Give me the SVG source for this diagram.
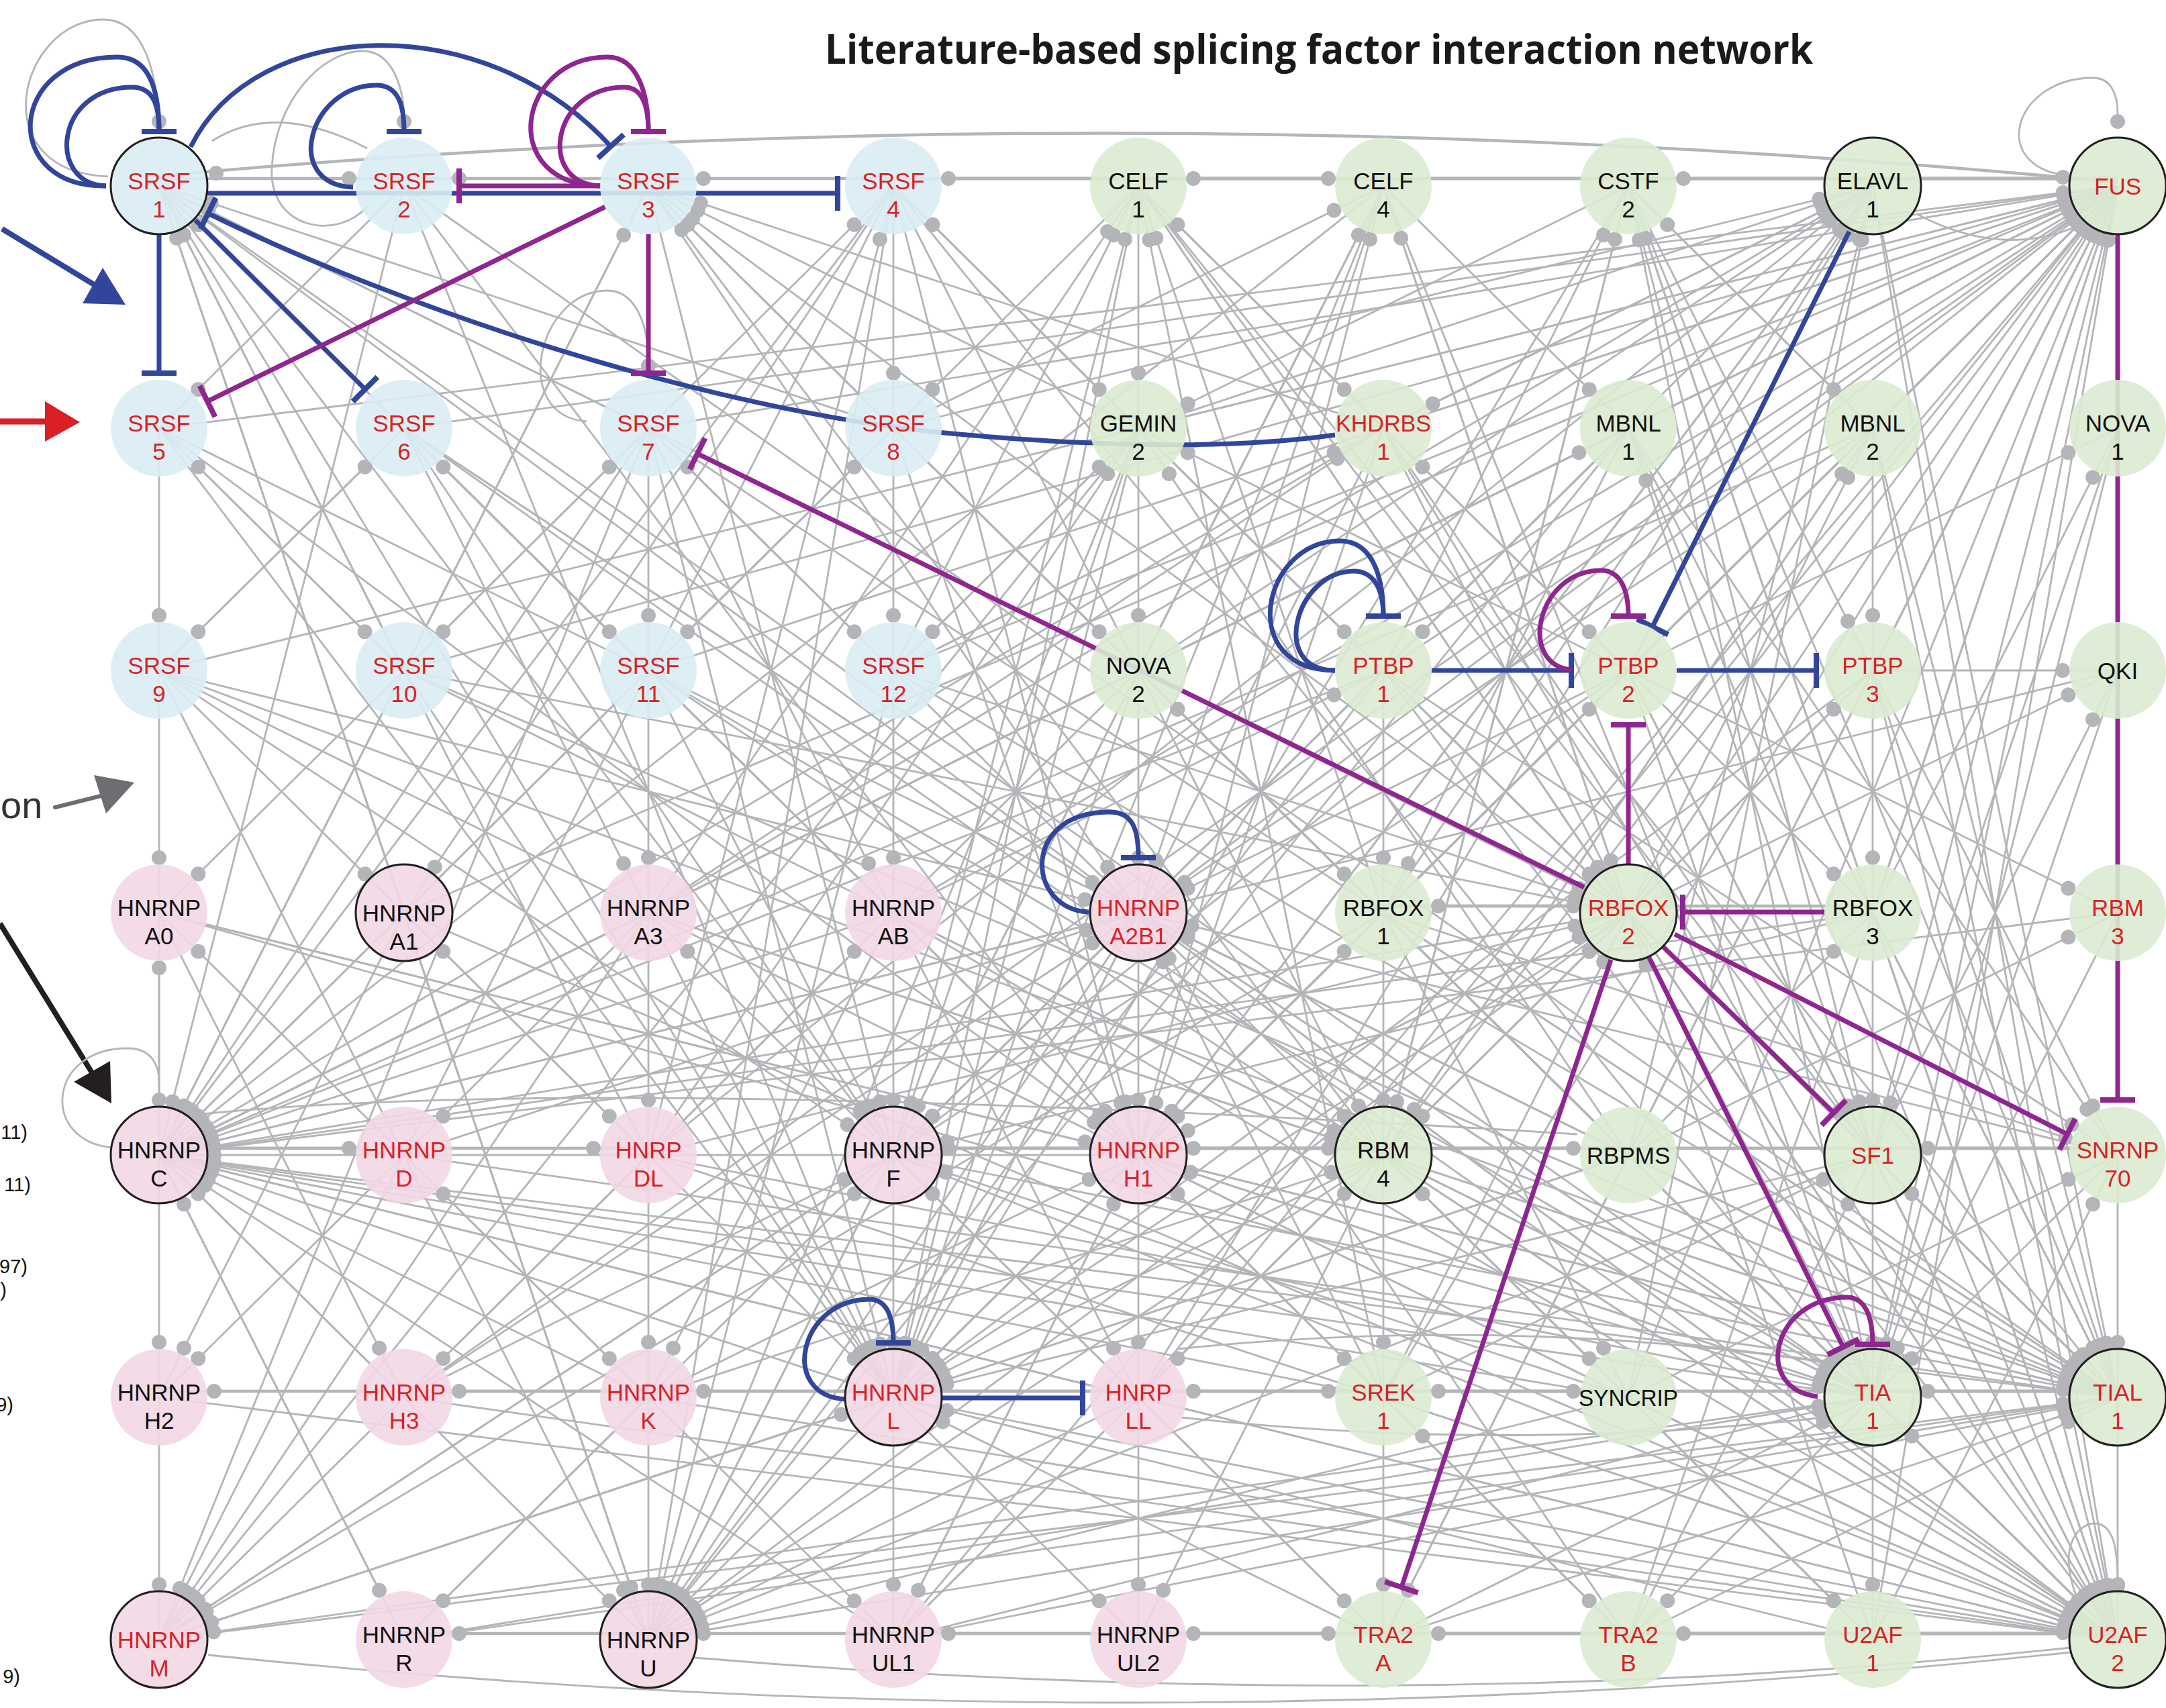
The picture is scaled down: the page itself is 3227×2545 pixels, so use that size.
<svg xmlns="http://www.w3.org/2000/svg" width="3227" height="2545" viewBox="0 0 3227 2545">
<style>
.g path{stroke:#b4b5b8;stroke-width:2.8;fill:none;marker-end:url(#d)}
.ch path{stroke:#b4b5b8;stroke-width:4.5;fill:none;marker-end:url(#d)}
.cv path{stroke:#b4b5b8;stroke-width:2.8;fill:none}
.gd{fill:#b4b5b8}
.cb{stroke:#31469b;stroke-width:7;fill:none;marker-end:url(#tB)}
.cp{stroke:#8f2690;stroke-width:7;fill:none;marker-end:url(#tP)}
.nb{fill:#d9edf4;fill-opacity:0.9}
.ng{fill:#dcebd2;fill-opacity:0.9}
.np{fill:#f2d8e6;fill-opacity:0.9}
.ol{stroke:#231f20;stroke-width:3}
.node text{font-family:"Liberation Sans",Arial,Helvetica,sans-serif;font-size:35px;text-anchor:middle}
.r{fill:#da1f26}
.k{fill:#111111}
.lab{font-family:"Liberation Sans",Arial,Helvetica,sans-serif;font-size:29px;fill:#111111}
</style>
<defs>
<marker id="d" markerUnits="userSpaceOnUse" markerWidth="1" markerHeight="1" refX="0" refY="0" orient="auto" overflow="visible"><circle cx="-82" cy="0" r="11" fill="#b4b5b8"/></marker>
<marker id="tB" markerUnits="userSpaceOnUse" markerWidth="1" markerHeight="1" refX="0" refY="0" orient="auto" overflow="visible"><path d="M0,-26V26" stroke="#31469b" stroke-width="8"/></marker>
<marker id="tP" markerUnits="userSpaceOnUse" markerWidth="1" markerHeight="1" refX="0" refY="0" orient="auto" overflow="visible"><path d="M0,-26V26" stroke="#8f2690" stroke-width="8"/></marker>
</defs>
<rect width="3227" height="2545" fill="#ffffff"/>
<text x="1229" y="95" font-family="'Open Sans','Liberation Sans',sans-serif" font-weight="700" font-size="60" fill="#1a1a1a" textLength="1472" lengthAdjust="spacingAndGlyphs">Literature-based splicing factor interaction network</text>
<g id="legend-fragments">
<path d="M3,341 L140,424" stroke="#31469b" stroke-width="8"/>
<polygon points="153,399 123,452 187,454" fill="#31469b"/>
<path d="M0,628 L72,628" stroke="#da1f26" stroke-width="9"/>
<polygon points="67,598 119,629 67,658" fill="#da1f26"/>
<text x="1" y="1219" font-family="'Liberation Sans',Arial,sans-serif" font-size="56" fill="#333333">on</text>
<path d="M82,1203 L150,1186" stroke="#6d6e71" stroke-width="6" stroke-linecap="round"/>
<polygon points="140,1155 200,1166 158,1212" fill="#6d6e71"/>
<path d="M0,1376 L138,1600" stroke="#231f20" stroke-width="8"/>
<polygon points="110,1612 164,1581 166,1644" fill="#231f20"/>
<text class="lab" x="41" y="1697" text-anchor="end">11)</text>
<text class="lab" x="46" y="1775" text-anchor="end">11)</text>
<text class="lab" x="41" y="1897" text-anchor="end">97)</text>
<text class="lab" x="10" y="1932" text-anchor="end">)</text>
<text class="lab" x="20" y="2103" text-anchor="end">9)</text>
<text class="lab" x="30" y="2508" text-anchor="end">9)</text>
</g>
<g id="connectors">
<g class="cv">
<path d="M161,263 C-30,255 30,29 154,29 C215,29 232,110 236,170"/>
<path d="M3083,262 C2960,250 3000,116 3118,116 C3145,116 3155,140 3155,170"/>
<path d="M167,1710 C60,1700 70,1562 190,1562 C228,1562 237,1590 237,1612"/>
<path d="M316,210 Q410,150 547,221"/>
<path d="M547,308 C500,360 400,340 405,250 C410,150 480,76 540,76 C585,76 600,130 602,170"/>
<path d="M874,628 C760,620 800,433 905,433 C945,433 966,480 966,540"/>
<path d="M3098,2390 C3060,2300 3100,2270 3120,2270 C3150,2270 3155,2310 3155,2361"/>
<path d="M2856,319 Q2990,390 3110,330"/>
<path d="M1760,2112 Q2240,2165 2720,2112"/>
<path d="M1755,2010 Q2240,1960 2720,2030"/>
<path d="M300,1660 Q900,1600 2350,1690"/>
<path d="M3085,2455 Q2100,2560 1035,2470"/>
<path d="M3085,2462 Q1700,2610 310,2466"/>
</g>
<circle class="gd" cx="237" cy="181" r="11"/>
<circle class="gd" cx="3155" cy="181" r="11"/>
<circle class="gd" cx="322" cy="258" r="11"/>
<circle class="gd" cx="602" cy="181" r="11"/>
<circle class="gd" cx="966" cy="545" r="11"/>
<circle class="gd" cx="3155" cy="2363" r="11"/>
<g class="ch">
<path d="M237,262 Q1700,130 3155,272"/>
<path d="M3155 266L966 266"/><path d="M3155 266L1331 266"/><path d="M3155 266L1696 266"/><path d="M1331 266L2061 266"/><path d="M3155 266L2426 266"/><path d="M237 266L602 266"/><path d="M966 266L602 266"/>
<path d="M237 1711L602 1711"/><path d="M237 1711L966 1711"/><path d="M3155 1711L1331 1711"/><path d="M3155 1711L1696 1711"/><path d="M1331 1711L2426 1711"/><path d="M3155 1711L2790 1711"/><path d="M1331 1711L2061 1711"/>
<path d="M966 2073L237 2073"/><path d="M1331 2073L602 2073"/><path d="M1331 2073L966 2073"/><path d="M3155 2073L1696 2073"/><path d="M1331 2073L2061 2073"/><path d="M3155 2073L2061 2073"/><path d="M1331 2073L2426 2073"/><path d="M3155 2073L2790 2073"/>
<path d="M966 2434L602 2434"/><path d="M1331 2434L966 2434"/><path d="M3155 2434L1331 2434"/><path d="M3155 2434L1696 2434"/><path d="M1331 2434L2061 2434"/><path d="M3155 2434L2061 2434"/><path d="M3155 2434L2426 2434"/>
<path d="M2061 1350L2426 1350"/><path d="M2790 1350L2061 1350"/>
</g>
<g class="g">
<path d="M237 638L237 999"/><path d="M237 999L237 1360"/><path d="M237 1721L237 1360"/><path d="M237 1360L237 1721"/><path d="M237 1721L237 2082"/><path d="M237 2082L237 2443"/>
<path d="M966 999L966 1360"/><path d="M966 1360L966 1721"/><path d="M966 1721L966 2082"/><path d="M966 2082L966 2443"/><path d="M966 638L966 999"/>
<path d="M1331 277L1331 638"/><path d="M1331 638L1331 999"/><path d="M1331 999L1331 1360"/><path d="M1331 1360L1331 1721"/><path d="M1331 1721L1331 2082"/><path d="M1331 2082L1331 2443"/>
<path d="M1696 277L1696 638"/><path d="M1696 638L1696 999"/><path d="M1696 999L1696 1360"/><path d="M1696 1360L1696 1721"/><path d="M1696 1721L1696 2082"/><path d="M1696 2082L1696 2443"/>
<path d="M2061 999L2061 1360"/><path d="M2061 1360L2061 1721"/><path d="M2061 1721L2061 2082"/><path d="M2061 2082L2061 2443"/>
<path d="M2790 638L2790 999"/><path d="M2790 999L2790 1360"/><path d="M2790 1360L2790 1721"/><path d="M2790 1721L2790 2082"/><path d="M2790 2082L2790 2443"/>
<path d="M3155 1721L3155 2082"/><path d="M3155 2082L3155 2443"/>
<path d="M237 638L3155 277"/><path d="M602 638L3155 277"/><path d="M966 638L3155 277"/><path d="M1696 638L3155 277"/><path d="M2061 638L3155 277"/><path d="M2426 638L3155 277"/><path d="M2790 638L3155 277"/>
<path d="M237 999L3155 277"/><path d="M602 999L3155 277"/><path d="M966 999L3155 277"/><path d="M1331 999L3155 277"/><path d="M1696 999L3155 277"/><path d="M2061 999L3155 277"/><path d="M2426 999L3155 277"/><path d="M2790 999L3155 277"/>
<path d="M602 1360L3155 277"/><path d="M966 1360L3155 277"/><path d="M1331 1360L3155 277"/><path d="M1696 1360L3155 277"/><path d="M2061 1360L3155 277"/><path d="M2426 1360L3155 277"/><path d="M2790 1360L3155 277"/>
<path d="M237 1721L3155 277"/><path d="M1331 1721L3155 277"/><path d="M1696 1721L3155 277"/><path d="M2061 1721L3155 277"/><path d="M2426 1721L3155 277"/><path d="M2790 1721L3155 277"/>
<path d="M602 2082L3155 277"/><path d="M1331 2082L3155 277"/><path d="M1696 2082L3155 277"/><path d="M2061 2082L3155 277"/><path d="M2426 2082L3155 277"/><path d="M2790 2082L3155 277"/>
<path d="M966 2443L3155 277"/><path d="M1331 2443L3155 277"/><path d="M2061 2443L3155 277"/><path d="M2426 2443L3155 277"/><path d="M2790 2443L3155 277"/>
<path d="M602 277L237 1721"/><path d="M966 277L237 1721"/><path d="M1331 277L237 1721"/><path d="M2061 277L237 1721"/>
<path d="M966 638L237 1721"/><path d="M1331 638L237 1721"/><path d="M2061 638L237 1721"/><path d="M2426 638L237 1721"/><path d="M2790 638L237 1721"/>
<path d="M602 999L237 1721"/><path d="M966 999L237 1721"/><path d="M1696 999L237 1721"/><path d="M2061 999L237 1721"/><path d="M3155 999L237 1721"/>
<path d="M966 1360L237 1721"/><path d="M1331 1360L237 1721"/><path d="M1696 1360L237 1721"/><path d="M2426 1360L237 1721"/><path d="M2790 1360L237 1721"/><path d="M3155 1360L237 1721"/>
<path d="M1696 1721L237 1721"/>
<path d="M602 2082L237 1721"/><path d="M966 2082L237 1721"/><path d="M1331 2082L237 1721"/><path d="M1696 2082L237 1721"/><path d="M2061 2082L237 1721"/><path d="M2426 2082L237 1721"/><path d="M2790 2082L237 1721"/><path d="M3155 2082L237 1721"/>
<path d="M602 2443L237 1721"/><path d="M1331 2443L237 1721"/><path d="M3155 2443L237 1721"/>
<path d="M237 277L3155 2443"/><path d="M1696 277L3155 2443"/><path d="M2426 277L3155 2443"/><path d="M2790 277L3155 2443"/>
<path d="M602 638L3155 2443"/><path d="M1331 638L3155 2443"/><path d="M2061 638L3155 2443"/><path d="M2426 638L3155 2443"/><path d="M2790 638L3155 2443"/>
<path d="M237 999L3155 2443"/><path d="M966 999L3155 2443"/><path d="M1696 999L3155 2443"/><path d="M2061 999L3155 2443"/><path d="M2426 999L3155 2443"/><path d="M2790 999L3155 2443"/>
<path d="M602 1360L3155 2443"/><path d="M1331 1360L3155 2443"/><path d="M1696 1360L3155 2443"/><path d="M2061 1360L3155 2443"/><path d="M2426 1360L3155 2443"/><path d="M2790 1360L3155 2443"/>
<path d="M966 1721L3155 2443"/><path d="M1331 1721L3155 2443"/><path d="M1696 1721L3155 2443"/><path d="M2061 1721L3155 2443"/><path d="M2426 1721L3155 2443"/><path d="M2790 1721L3155 2443"/>
<path d="M237 2082L3155 2443"/><path d="M602 2082L3155 2443"/><path d="M966 2082L3155 2443"/><path d="M1331 2082L3155 2443"/><path d="M1696 2082L3155 2443"/><path d="M2061 2082L3155 2443"/><path d="M2426 2082L3155 2443"/><path d="M2790 2082L3155 2443"/>
<path d="M602 277L3155 2082"/><path d="M1696 277L3155 2082"/><path d="M2426 277L3155 2082"/><path d="M2790 277L3155 2082"/>
<path d="M237 638L3155 2082"/><path d="M966 638L3155 2082"/><path d="M1696 638L3155 2082"/><path d="M2426 638L3155 2082"/><path d="M2790 638L3155 2082"/>
<path d="M237 999L3155 2082"/><path d="M602 999L3155 2082"/><path d="M1331 999L3155 2082"/><path d="M2061 999L3155 2082"/><path d="M2790 999L3155 2082"/>
<path d="M237 1360L3155 2082"/><path d="M966 1360L3155 2082"/><path d="M1696 1360L3155 2082"/><path d="M2061 1360L3155 2082"/><path d="M2790 1360L3155 2082"/>
<path d="M602 1721L3155 2082"/><path d="M1331 1721L3155 2082"/><path d="M1696 1721L3155 2082"/><path d="M2061 1721L3155 2082"/><path d="M2426 1721L3155 2082"/><path d="M2790 1721L3155 2082"/>
<path d="M237 2443L3155 2082"/><path d="M602 2443L3155 2082"/><path d="M966 2443L3155 2082"/><path d="M1331 2443L3155 2082"/><path d="M2061 2443L3155 2082"/><path d="M2426 2443L3155 2082"/>
<path d="M237 277L2790 2082"/><path d="M1331 277L2790 2082"/><path d="M2061 277L2790 2082"/>
<path d="M602 638L2790 2082"/><path d="M1331 638L2790 2082"/><path d="M2061 638L2790 2082"/><path d="M3155 638L2790 2082"/>
<path d="M966 999L2790 2082"/><path d="M1696 999L2790 2082"/><path d="M2426 999L2790 2082"/><path d="M3155 999L2790 2082"/>
<path d="M237 1360L2790 2082"/><path d="M1331 1360L2790 2082"/><path d="M1696 1360L2790 2082"/><path d="M3155 1360L2790 2082"/>
<path d="M966 1721L2790 2082"/><path d="M1696 1721L2790 2082"/><path d="M2061 1721L2790 2082"/><path d="M3155 1721L2790 2082"/>
<path d="M602 2443L2790 2082"/><path d="M1331 2443L2790 2082"/><path d="M2061 2443L2790 2082"/><path d="M3155 2443L2790 2082"/>
<path d="M237 277L1331 2082"/><path d="M602 277L1331 2082"/><path d="M1696 277L1331 2082"/><path d="M2061 277L1331 2082"/><path d="M2426 277L1331 2082"/>
<path d="M237 638L1331 2082"/><path d="M966 638L1331 2082"/><path d="M1696 638L1331 2082"/><path d="M2061 638L1331 2082"/><path d="M2790 638L1331 2082"/>
<path d="M602 999L1331 2082"/><path d="M1696 999L1331 2082"/><path d="M2426 999L1331 2082"/><path d="M2790 999L1331 2082"/>
<path d="M966 1360L1331 2082"/><path d="M1696 1360L1331 2082"/><path d="M2061 1360L1331 2082"/><path d="M2426 1360L1331 2082"/>
<path d="M966 1721L1331 2082"/><path d="M2061 1721L1331 2082"/><path d="M2426 1721L1331 2082"/><path d="M2790 1721L1331 2082"/>
<path d="M237 2443L1331 2082"/><path d="M2061 2443L1331 2082"/><path d="M2790 2443L1331 2082"/>
<path d="M237 277L966 2443"/><path d="M1331 277L966 2443"/><path d="M2061 277L966 2443"/><path d="M1696 638L966 2443"/><path d="M2426 638L966 2443"/>
<path d="M237 999L966 2443"/><path d="M1331 999L966 2443"/><path d="M2061 999L966 2443"/><path d="M602 1360L966 2443"/><path d="M1696 1360L966 2443"/><path d="M2426 1360L966 2443"/>
<path d="M237 1721L966 2443"/><path d="M1331 1721L966 2443"/><path d="M2061 1721L966 2443"/><path d="M2790 1721L966 2443"/><path d="M1696 2082L966 2443"/><path d="M2426 2082L966 2443"/>
<path d="M1331 277L237 2443"/><path d="M966 638L237 2443"/><path d="M1696 638L237 2443"/><path d="M1696 999L237 2443"/><path d="M2426 999L237 2443"/><path d="M966 1360L237 2443"/>
<path d="M2061 1360L237 2443"/><path d="M1331 1721L237 2443"/><path d="M2426 1721L237 2443"/><path d="M1331 2082L237 2443"/><path d="M2790 2082L237 2443"/>
<path d="M237 277L1331 1721"/><path d="M966 277L1331 1721"/><path d="M2061 277L1331 1721"/><path d="M2790 277L1331 1721"/><path d="M602 638L1331 1721"/><path d="M1696 638L1331 1721"/>
<path d="M2426 638L1331 1721"/><path d="M237 999L1331 1721"/><path d="M966 999L1331 1721"/><path d="M2061 999L1331 1721"/><path d="M1696 1360L1331 1721"/><path d="M2790 1360L1331 1721"/>
<path d="M602 2082L1331 1721"/><path d="M1696 2082L1331 1721"/><path d="M2426 2082L1331 1721"/><path d="M602 2443L1331 1721"/><path d="M2061 2443L1331 1721"/>
<path d="M602 277L1696 1721"/><path d="M1331 277L1696 1721"/><path d="M2790 277L1696 1721"/><path d="M237 638L1696 1721"/><path d="M1331 638L1696 1721"/><path d="M2061 638L1696 1721"/>
<path d="M966 999L1696 1721"/><path d="M2426 999L1696 1721"/><path d="M237 1360L1696 1721"/><path d="M1331 1360L1696 1721"/><path d="M2426 1360L1696 1721"/>
<path d="M966 2082L1696 1721"/><path d="M2061 2082L1696 1721"/><path d="M2790 2082L1696 1721"/><path d="M1331 2443L1696 1721"/><path d="M2426 2443L1696 1721"/>
<path d="M966 638L237 277"/><path d="M1331 638L237 277"/><path d="M602 999L237 277"/><path d="M966 999L237 277"/><path d="M1696 999L237 277"/><path d="M602 1360L237 277"/><path d="M1331 1360L237 277"/><path d="M966 1721L237 277"/><path d="M1696 1721L237 277"/>
<path d="M1331 638L2790 277"/><path d="M1696 638L2790 277"/><path d="M2061 638L2790 277"/><path d="M1331 999L2790 277"/><path d="M1696 999L2790 277"/><path d="M2426 999L2790 277"/><path d="M966 1360L2790 277"/>
<path d="M2061 1360L2790 277"/><path d="M966 1721L2790 277"/><path d="M1696 1721L2790 277"/><path d="M2426 1721L2790 277"/><path d="M1696 2082L2790 277"/><path d="M2426 2082L2790 277"/>
<path d="M1331 638L966 277"/><path d="M1696 638L966 277"/><path d="M2061 638L966 277"/><path d="M602 999L966 277"/><path d="M1696 999L966 277"/><path d="M2061 1360L966 277"/><path d="M2426 1360L966 277"/><path d="M2061 1721L966 277"/>
<path d="M966 277L1696 1360"/><path d="M2061 277L1696 1360"/><path d="M602 638L1696 1360"/><path d="M2790 638L1696 1360"/><path d="M237 999L1696 1360"/><path d="M2426 999L1696 1360"/>
<path d="M602 1721L1696 1360"/><path d="M2426 1721L1696 1360"/><path d="M3155 1721L1696 1360"/><path d="M602 2082L1696 1360"/><path d="M2061 2082L1696 1360"/><path d="M2426 2443L1696 1360"/>
<path d="M1696 277L2426 1360"/><path d="M2061 277L2426 1360"/><path d="M966 638L2426 1360"/><path d="M1696 638L2426 1360"/><path d="M602 999L2426 1360"/><path d="M1331 999L2426 1360"/>
<path d="M966 1721L2426 1360"/><path d="M1696 1721L2426 1360"/><path d="M1696 2082L2426 1360"/><path d="M2061 2082L2426 1360"/><path d="M1331 2443L2426 1360"/><path d="M2790 2443L2426 1360"/>
<path d="M1331 277L2061 1721"/><path d="M2426 277L2061 1721"/><path d="M966 638L2061 1721"/><path d="M2790 638L2061 1721"/><path d="M602 999L2061 1721"/><path d="M2790 999L2061 1721"/>
<path d="M966 1360L2061 1721"/><path d="M966 2082L2061 1721"/><path d="M2426 2082L2061 1721"/><path d="M1331 2443L2061 1721"/><path d="M2790 2443L2061 1721"/>
<path d="M1696 277L2790 1721"/><path d="M2426 277L2790 1721"/><path d="M2061 638L2790 1721"/><path d="M3155 638L2790 1721"/><path d="M2426 999L2790 1721"/><path d="M2061 2082L2790 1721"/><path d="M3155 2082L2790 1721"/><path d="M2426 2443L2790 1721"/>
<path d="M2426 638L3155 1721"/><path d="M2061 999L3155 1721"/><path d="M2790 999L3155 1721"/><path d="M2061 1360L3155 1721"/><path d="M2426 2082L3155 1721"/><path d="M2790 2443L3155 1721"/>
<path d="M1331 277L1696 638"/><path d="M2426 277L1696 638"/><path d="M1331 999L1696 638"/><path d="M2426 999L1696 638"/><path d="M966 1721L1696 638"/><path d="M2426 1721L1696 638"/>
<path d="M1696 277L2061 638"/><path d="M2790 277L2061 638"/><path d="M2426 999L2061 638"/><path d="M1331 999L2061 638"/><path d="M966 1360L2061 638"/>
<path d="M966 638L1331 277"/><path d="M1696 638L1331 277"/><path d="M2061 999L1331 277"/><path d="M966 1721L1331 277"/>
<path d="M2061 638L1696 277"/><path d="M1331 999L1696 277"/><path d="M2061 1360L1696 277"/><path d="M1331 1721L1696 277"/><path d="M2061 2082L1696 277"/><path d="M966 1360L1696 277"/>
<path d="M1331 638L2061 277"/><path d="M1696 999L2061 277"/><path d="M1696 1721L2061 277"/><path d="M2426 1360L2061 277"/>
<path d="M2790 638L2426 277"/><path d="M2061 999L2426 277"/><path d="M2790 1360L2426 277"/><path d="M2061 1721L2426 277"/><path d="M2790 2082L2426 277"/>
<path d="M2061 277L2426 638"/><path d="M1696 999L2426 638"/><path d="M2790 1721L2426 638"/>
<path d="M2426 277L2790 638"/><path d="M2426 1360L2790 638"/><path d="M2061 1721L2790 638"/>
<path d="M2426 999L3155 638"/><path d="M2790 1360L3155 638"/>
<path d="M2426 1360L3155 999"/><path d="M2790 1721L3155 999"/><path d="M2790 999L3155 999"/>
<path d="M2426 1721L3155 1360"/><path d="M2426 999L3155 1360"/>
<path d="M2426 999L2790 1360"/><path d="M2426 1721L2790 1360"/>
<path d="M1696 999L2061 1360"/><path d="M1696 1721L2061 1360"/><path d="M2426 638L2061 1360"/>
<path d="M1331 638L1696 999"/><path d="M2061 1360L1696 999"/><path d="M2426 1721L1696 999"/>
<path d="M2426 638L2061 999"/><path d="M1331 1360L2061 999"/><path d="M1331 277L2061 999"/>
<path d="M1696 277L2426 999"/><path d="M1696 1721L2426 999"/>
<path d="M2426 277L2790 999"/><path d="M2426 1360L2790 999"/>
<path d="M602 277L237 638"/><path d="M602 999L237 638"/>
<path d="M966 999L602 638"/><path d="M237 999L602 638"/>
<path d="M602 999L966 638"/><path d="M1331 999L966 638"/>
<path d="M966 999L1331 638"/><path d="M1696 277L1331 638"/>
<path d="M602 638L237 999"/>
<path d="M966 638L602 999"/><path d="M237 638L602 999"/>
<path d="M602 638L966 999"/><path d="M1331 638L966 999"/>
<path d="M1696 638L1331 999"/><path d="M966 638L1331 999"/>
<path d="M602 999L237 1360"/><path d="M602 1721L237 1360"/>
<path d="M237 999L602 1360"/><path d="M966 1721L602 1360"/><path d="M1331 277L602 1360"/>
<path d="M602 638L966 1360"/><path d="M1331 1721L966 1360"/>
<path d="M966 638L1331 1360"/><path d="M966 1721L1331 1360"/>
<path d="M966 1360L602 1721"/><path d="M966 2082L602 1721"/>
<path d="M602 1360L966 1721"/>
<path d="M602 1721L237 2082"/><path d="M602 1360L237 2082"/>
<path d="M966 1721L602 2082"/><path d="M237 1360L602 2082"/>
<path d="M602 1721L966 2082"/><path d="M1331 1360L966 2082"/>
<path d="M2061 1721L1696 2082"/><path d="M1331 1360L1696 2082"/>
<path d="M1696 1721L2061 2082"/><path d="M2426 2443L2061 2082"/>
<path d="M2061 1721L2426 2082"/><path d="M2061 1360L2426 2082"/>
<path d="M237 1721L602 2443"/><path d="M966 2082L602 2443"/>
<path d="M966 2082L1331 2443"/><path d="M1696 1721L1331 2443"/>
<path d="M1331 2082L1696 2443"/><path d="M2061 1721L1696 2443"/>
<path d="M1696 2082L2061 2443"/><path d="M2426 1721L2061 2443"/>
<path d="M2790 2082L2426 2443"/><path d="M1696 1721L2426 2443"/>
<path d="M2426 2082L2790 2443"/><path d="M2061 1721L2790 2443"/>
</g>
<g id="colored-edges">
<path class="cb" d="M158,277 C0,280 10,85 175,85 C225,85 237,140 237,196"/>
<path class="cb" d="M158,277 C70,275 80,130 197,130 C230,130 237,160 237,196"/>
<path class="cb" d="M284,219 C380,25 720,10 910,218"/>
<path class="cb" d="M526,279 C420,275 460,127 561,127 C595,127 602,160 602,196"/>
<path class="cb" d="M309,288 L1248,288"/>
<path class="cb" d="M237,349 L237,556"/>
<path class="cb" d="M291,328 L544,580"/>
<path class="cb" d="M1989,648 C1850,668 1650,668 1407,645 C1050,610 600,460 310,318"/>
<path class="cb" d="M2755,345 L2462,934"/>
<path class="cb" d="M1989,999 C1840,999 1880,806 1996,806 C2040,806 2061,850 2061,918"/>
<path class="cb" d="M1989,999 C1890,999 1930,851 2017,851 C2048,851 2061,880 2061,918"/>
<path class="cb" d="M2133,999 L2341,999"/>
<path class="cb" d="M2498,999 L2706,999"/>
<path class="cb" d="M1622,1359 C1530,1355 1520,1212 1650,1210 C1690,1208 1696,1240 1696,1278"/>
<path class="cb" d="M1260,2085 C1160,2080 1190,1936 1295,1936 C1320,1936 1331,1960 1331,2001"/>
<path class="cb" d="M1403,2083 L1613,2083"/>
<path class="cp" d="M895,277 C740,275 770,85 905,85 C950,85 966,140 966,196"/>
<path class="cp" d="M895,277 C800,275 820,130 930,130 C958,130 966,160 966,196"/>
<path class="cp" d="M895,277 L684,277"/>
<path class="cp" d="M902,308 L309,598"/>
<path class="cp" d="M966,349 L966,556"/>
<path class="cp" d="M2360,1322 L1039,676"/>
<path class="cp" d="M2341,998 C2260,990 2290,850 2385,850 C2415,850 2426,880 2426,918"/>
<path class="cp" d="M2426,1288 L2426,1080"/>
<path class="cp" d="M2718,1359 L2507,1359"/>
<path class="cp" d="M3155,349 L3155,1639"/>
<path class="cp" d="M2477,1410 L2732,1658"/>
<path class="cp" d="M2495,1392 L3080,1690"/>
<path class="cp" d="M2457,1427 L2746,2007"/>
<path class="cp" d="M2708,2081 C2610,2070 2640,1933 2752,1933 C2780,1933 2790,1965 2790,2003"/>
<path class="cp" d="M2400,1430 L2088,2365"/>
</g>
</g>
<g id="nodes">
<g id="SRSF1" class="node"><circle cx="237" cy="277" r="72" class="nb ol"/><text class="r"><tspan x="237" y="282">SRSF</tspan><tspan x="237" y="324">1</tspan></text></g>
<g id="SRSF2" class="node"><circle cx="602" cy="277" r="72" class="nb"/><text class="r"><tspan x="602" y="282">SRSF</tspan><tspan x="602" y="324">2</tspan></text></g>
<g id="SRSF3" class="node"><circle cx="966" cy="277" r="72" class="nb"/><text class="r"><tspan x="966" y="282">SRSF</tspan><tspan x="966" y="324">3</tspan></text></g>
<g id="SRSF4" class="node"><circle cx="1331" cy="277" r="72" class="nb"/><text class="r"><tspan x="1331" y="282">SRSF</tspan><tspan x="1331" y="324">4</tspan></text></g>
<g id="CELF1" class="node"><circle cx="1696" cy="277" r="72" class="ng"/><text class="k"><tspan x="1696" y="282">CELF</tspan><tspan x="1696" y="324">1</tspan></text></g>
<g id="CELF4" class="node"><circle cx="2061" cy="277" r="72" class="ng"/><text class="k"><tspan x="2061" y="282">CELF</tspan><tspan x="2061" y="324">4</tspan></text></g>
<g id="CSTF2" class="node"><circle cx="2426" cy="277" r="72" class="ng"/><text class="k"><tspan x="2426" y="282">CSTF</tspan><tspan x="2426" y="324">2</tspan></text></g>
<g id="ELAVL1" class="node"><circle cx="2790" cy="277" r="72" class="ng ol"/><text class="k"><tspan x="2790" y="282">ELAVL</tspan><tspan x="2790" y="324">1</tspan></text></g>
<g id="FUS" class="node"><circle cx="3155" cy="277" r="72" class="ng ol"/><text class="r"><tspan x="3155" y="290">FUS</tspan></text></g>
<g id="SRSF5" class="node"><circle cx="237" cy="638" r="72" class="nb"/><text class="r"><tspan x="237" y="643">SRSF</tspan><tspan x="237" y="685">5</tspan></text></g>
<g id="SRSF6" class="node"><circle cx="602" cy="638" r="72" class="nb"/><text class="r"><tspan x="602" y="643">SRSF</tspan><tspan x="602" y="685">6</tspan></text></g>
<g id="SRSF7" class="node"><circle cx="966" cy="638" r="72" class="nb"/><text class="r"><tspan x="966" y="643">SRSF</tspan><tspan x="966" y="685">7</tspan></text></g>
<g id="SRSF8" class="node"><circle cx="1331" cy="638" r="72" class="nb"/><text class="r"><tspan x="1331" y="643">SRSF</tspan><tspan x="1331" y="685">8</tspan></text></g>
<g id="GEMIN2" class="node"><circle cx="1696" cy="638" r="72" class="ng"/><text class="k"><tspan x="1696" y="643">GEMIN</tspan><tspan x="1696" y="685">2</tspan></text></g>
<g id="KHDRBS1" class="node"><circle cx="2061" cy="638" r="72" class="ng"/><text class="r"><tspan x="2061" y="643" textLength="142" lengthAdjust="spacingAndGlyphs">KHDRBS</tspan><tspan x="2061" y="685">1</tspan></text></g>
<g id="MBNL1" class="node"><circle cx="2426" cy="638" r="72" class="ng"/><text class="k"><tspan x="2426" y="643">MBNL</tspan><tspan x="2426" y="685">1</tspan></text></g>
<g id="MBNL2" class="node"><circle cx="2790" cy="638" r="72" class="ng"/><text class="k"><tspan x="2790" y="643">MBNL</tspan><tspan x="2790" y="685">2</tspan></text></g>
<g id="NOVA1" class="node"><circle cx="3155" cy="638" r="72" class="ng"/><text class="k"><tspan x="3155" y="643">NOVA</tspan><tspan x="3155" y="685">1</tspan></text></g>
<g id="SRSF9" class="node"><circle cx="237" cy="999" r="72" class="nb"/><text class="r"><tspan x="237" y="1004">SRSF</tspan><tspan x="237" y="1046">9</tspan></text></g>
<g id="SRSF10" class="node"><circle cx="602" cy="999" r="72" class="nb"/><text class="r"><tspan x="602" y="1004">SRSF</tspan><tspan x="602" y="1046">10</tspan></text></g>
<g id="SRSF11" class="node"><circle cx="966" cy="999" r="72" class="nb"/><text class="r"><tspan x="966" y="1004">SRSF</tspan><tspan x="966" y="1046">11</tspan></text></g>
<g id="SRSF12" class="node"><circle cx="1331" cy="999" r="72" class="nb"/><text class="r"><tspan x="1331" y="1004">SRSF</tspan><tspan x="1331" y="1046">12</tspan></text></g>
<g id="NOVA2" class="node"><circle cx="1696" cy="999" r="72" class="ng"/><text class="k"><tspan x="1696" y="1004">NOVA</tspan><tspan x="1696" y="1046">2</tspan></text></g>
<g id="PTBP1" class="node"><circle cx="2061" cy="999" r="72" class="ng"/><text class="r"><tspan x="2061" y="1004">PTBP</tspan><tspan x="2061" y="1046">1</tspan></text></g>
<g id="PTBP2" class="node"><circle cx="2426" cy="999" r="72" class="ng"/><text class="r"><tspan x="2426" y="1004">PTBP</tspan><tspan x="2426" y="1046">2</tspan></text></g>
<g id="PTBP3" class="node"><circle cx="2790" cy="999" r="72" class="ng"/><text class="r"><tspan x="2790" y="1004">PTBP</tspan><tspan x="2790" y="1046">3</tspan></text></g>
<g id="QKI" class="node"><circle cx="3155" cy="999" r="72" class="ng"/><text class="k"><tspan x="3155" y="1012">QKI</tspan></text></g>
<g id="HNRNPA0" class="node"><circle cx="237" cy="1360" r="72" class="np"/><text class="k"><tspan x="237" y="1365">HNRNP</tspan><tspan x="237" y="1407">A0</tspan></text></g>
<g id="HNRNPA1" class="node"><circle cx="602" cy="1360" r="72" class="np ol"/><text class="k"><tspan x="602" y="1373">HNRNP</tspan><tspan x="602" y="1415">A1</tspan></text></g>
<g id="HNRNPA3" class="node"><circle cx="966" cy="1360" r="72" class="np"/><text class="k"><tspan x="966" y="1365">HNRNP</tspan><tspan x="966" y="1407">A3</tspan></text></g>
<g id="HNRNPAB" class="node"><circle cx="1331" cy="1360" r="72" class="np"/><text class="k"><tspan x="1331" y="1365">HNRNP</tspan><tspan x="1331" y="1407">AB</tspan></text></g>
<g id="HNRNPA2B1" class="node"><circle cx="1696" cy="1360" r="72" class="np ol"/><text class="r"><tspan x="1696" y="1365">HNRNP</tspan><tspan x="1696" y="1407">A2B1</tspan></text></g>
<g id="RBFOX1" class="node"><circle cx="2061" cy="1360" r="72" class="ng"/><text class="k"><tspan x="2061" y="1365">RBFOX</tspan><tspan x="2061" y="1407">1</tspan></text></g>
<g id="RBFOX2" class="node"><circle cx="2426" cy="1360" r="72" class="ng ol"/><text class="r"><tspan x="2426" y="1365">RBFOX</tspan><tspan x="2426" y="1407">2</tspan></text></g>
<g id="RBFOX3" class="node"><circle cx="2790" cy="1360" r="72" class="ng"/><text class="k"><tspan x="2790" y="1365">RBFOX</tspan><tspan x="2790" y="1407">3</tspan></text></g>
<g id="RBM3" class="node"><circle cx="3155" cy="1360" r="72" class="ng"/><text class="r"><tspan x="3155" y="1365">RBM</tspan><tspan x="3155" y="1407">3</tspan></text></g>
<g id="HNRNPC" class="node"><circle cx="237" cy="1721" r="72" class="np ol"/><text class="k"><tspan x="237" y="1726">HNRNP</tspan><tspan x="237" y="1768">C</tspan></text></g>
<g id="HNRNPD" class="node"><circle cx="602" cy="1721" r="72" class="np"/><text class="r"><tspan x="602" y="1726">HNRNP</tspan><tspan x="602" y="1768">D</tspan></text></g>
<g id="HNRPDL" class="node"><circle cx="966" cy="1721" r="72" class="np"/><text class="r"><tspan x="966" y="1726">HNRP</tspan><tspan x="966" y="1768">DL</tspan></text></g>
<g id="HNRNPF" class="node"><circle cx="1331" cy="1721" r="72" class="np ol"/><text class="k"><tspan x="1331" y="1726">HNRNP</tspan><tspan x="1331" y="1768">F</tspan></text></g>
<g id="HNRNPH1" class="node"><circle cx="1696" cy="1721" r="72" class="np ol"/><text class="r"><tspan x="1696" y="1726">HNRNP</tspan><tspan x="1696" y="1768">H1</tspan></text></g>
<g id="RBM4" class="node"><circle cx="2061" cy="1721" r="72" class="ng ol"/><text class="k"><tspan x="2061" y="1726">RBM</tspan><tspan x="2061" y="1768">4</tspan></text></g>
<g id="RBPMS" class="node"><circle cx="2426" cy="1721" r="72" class="ng"/><text class="k"><tspan x="2426" y="1734">RBPMS</tspan></text></g>
<g id="SF1" class="node"><circle cx="2790" cy="1721" r="72" class="ng ol"/><text class="r"><tspan x="2790" y="1734">SF1</tspan></text></g>
<g id="SNRNP70" class="node"><circle cx="3155" cy="1721" r="72" class="ng"/><text class="r"><tspan x="3155" y="1726">SNRNP</tspan><tspan x="3155" y="1768">70</tspan></text></g>
<g id="HNRNPH2" class="node"><circle cx="237" cy="2082" r="72" class="np"/><text class="k"><tspan x="237" y="2087">HNRNP</tspan><tspan x="237" y="2129">H2</tspan></text></g>
<g id="HNRNPH3" class="node"><circle cx="602" cy="2082" r="72" class="np"/><text class="r"><tspan x="602" y="2087">HNRNP</tspan><tspan x="602" y="2129">H3</tspan></text></g>
<g id="HNRNPK" class="node"><circle cx="966" cy="2082" r="72" class="np"/><text class="r"><tspan x="966" y="2087">HNRNP</tspan><tspan x="966" y="2129">K</tspan></text></g>
<g id="HNRNPL" class="node"><circle cx="1331" cy="2082" r="72" class="np ol"/><text class="r"><tspan x="1331" y="2087">HNRNP</tspan><tspan x="1331" y="2129">L</tspan></text></g>
<g id="HNRPLL" class="node"><circle cx="1696" cy="2082" r="72" class="np"/><text class="r"><tspan x="1696" y="2087">HNRP</tspan><tspan x="1696" y="2129">LL</tspan></text></g>
<g id="SREK1" class="node"><circle cx="2061" cy="2082" r="72" class="ng"/><text class="r"><tspan x="2061" y="2087">SREK</tspan><tspan x="2061" y="2129">1</tspan></text></g>
<g id="SYNCRIP" class="node"><circle cx="2426" cy="2082" r="72" class="ng"/><text class="k"><tspan x="2426" y="2095" textLength="148" lengthAdjust="spacingAndGlyphs">SYNCRIP</tspan></text></g>
<g id="TIA1" class="node"><circle cx="2790" cy="2082" r="72" class="ng ol"/><text class="r"><tspan x="2790" y="2087">TIA</tspan><tspan x="2790" y="2129">1</tspan></text></g>
<g id="TIAL1" class="node"><circle cx="3155" cy="2082" r="72" class="ng ol"/><text class="r"><tspan x="3155" y="2087">TIAL</tspan><tspan x="3155" y="2129">1</tspan></text></g>
<g id="HNRNPM" class="node"><circle cx="237" cy="2443" r="72" class="np ol"/><text class="r"><tspan x="237" y="2456">HNRNP</tspan><tspan x="237" y="2498">M</tspan></text></g>
<g id="HNRNPR" class="node"><circle cx="602" cy="2443" r="72" class="np"/><text class="k"><tspan x="602" y="2448">HNRNP</tspan><tspan x="602" y="2490">R</tspan></text></g>
<g id="HNRNPU" class="node"><circle cx="966" cy="2443" r="72" class="np ol"/><text class="k"><tspan x="966" y="2456">HNRNP</tspan><tspan x="966" y="2498">U</tspan></text></g>
<g id="HNRNPUL1" class="node"><circle cx="1331" cy="2443" r="72" class="np"/><text class="k"><tspan x="1331" y="2448">HNRNP</tspan><tspan x="1331" y="2490">UL1</tspan></text></g>
<g id="HNRNPUL2" class="node"><circle cx="1696" cy="2443" r="72" class="np"/><text class="k"><tspan x="1696" y="2448">HNRNP</tspan><tspan x="1696" y="2490">UL2</tspan></text></g>
<g id="TRA2A" class="node"><circle cx="2061" cy="2443" r="72" class="ng"/><text class="r"><tspan x="2061" y="2448">TRA2</tspan><tspan x="2061" y="2490">A</tspan></text></g>
<g id="TRA2B" class="node"><circle cx="2426" cy="2443" r="72" class="ng"/><text class="r"><tspan x="2426" y="2448">TRA2</tspan><tspan x="2426" y="2490">B</tspan></text></g>
<g id="U2AF1" class="node"><circle cx="2790" cy="2443" r="72" class="ng"/><text class="r"><tspan x="2790" y="2448">U2AF</tspan><tspan x="2790" y="2490">1</tspan></text></g>
<g id="U2AF2" class="node"><circle cx="3155" cy="2443" r="72" class="ng ol"/><text class="r"><tspan x="3155" y="2448">U2AF</tspan><tspan x="3155" y="2490">2</tspan></text></g>
</g>
</svg>
